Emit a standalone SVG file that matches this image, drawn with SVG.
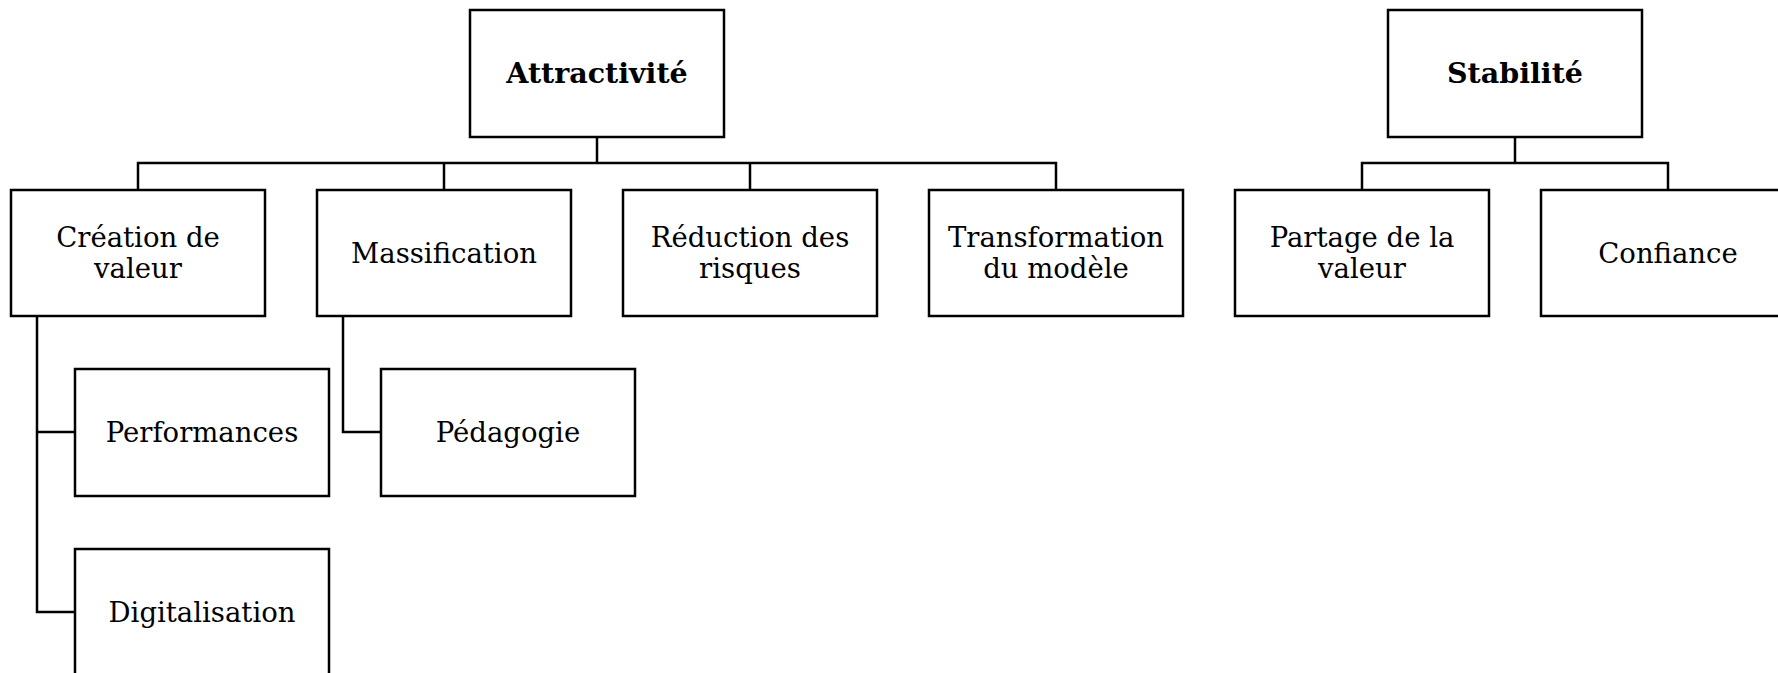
<svg xmlns="http://www.w3.org/2000/svg" width="1778" height="673" viewBox="0 0 1778 673">
<style>
.box{fill:#fff;stroke:#000;stroke-width:2.5}
.lbl{font-family:"DejaVu Serif","Liberation Serif",serif;font-size:27.5px;fill:#000;text-anchor:middle}
.b{font-weight:bold;font-size:28.5px}
.con{fill:none;stroke:#000;stroke-width:2.5}
</style>
<rect width="1778" height="673" fill="#fff"/>
<g id="connectors">
<path class="con" d="M597,137V163M138,190V163H1056V190M444,163V190M750,163V190"/>
<path class="con" d="M1515,137V163M1362,190V163H1668V190"/>
<path class="con" d="M37,316V612H75M37,432H75"/>
<path class="con" d="M343,316V432H381"/>
</g>
<g id="attractivite"><rect class="box" x="470" y="10" width="254" height="127"/><text class="lbl b" x="597" y="83">Attractivité</text></g>
<g id="stabilite"><rect class="box" x="1388" y="10" width="254" height="127"/><text class="lbl b" x="1515" y="83">Stabilité</text></g>
<g id="creation"><rect class="box" x="11" y="190" width="254" height="126"/><text class="lbl" x="138" y="247">Création de</text><text class="lbl" x="138" y="278">valeur</text></g>
<g id="massification"><rect class="box" x="317" y="190" width="254" height="126"/><text class="lbl" x="444" y="263">Massification</text></g>
<g id="reduction"><rect class="box" x="623" y="190" width="254" height="126"/><text class="lbl" x="750" y="247">Réduction des</text><text class="lbl" x="750" y="278">risques</text></g>
<g id="transformation"><rect class="box" x="929" y="190" width="254" height="126"/><text class="lbl" x="1056" y="247">Transformation</text><text class="lbl" x="1056" y="278">du modèle</text></g>
<g id="partage"><rect class="box" x="1235" y="190" width="254" height="126"/><text class="lbl" x="1362" y="247">Partage de la</text><text class="lbl" x="1362" y="278">valeur</text></g>
<g id="confiance"><rect class="box" x="1541" y="190" width="254" height="126"/><text class="lbl" x="1668" y="263">Confiance</text></g>
<g id="performances"><rect class="box" x="75" y="369" width="254" height="127"/><text class="lbl" x="202" y="442">Performances</text></g>
<g id="pedagogie"><rect class="box" x="381" y="369" width="254" height="127"/><text class="lbl" x="508" y="442">Pédagogie</text></g>
<g id="digitalisation"><rect class="box" x="75" y="549" width="254" height="127"/><text class="lbl" x="202" y="622">Digitalisation</text></g>
</svg>
